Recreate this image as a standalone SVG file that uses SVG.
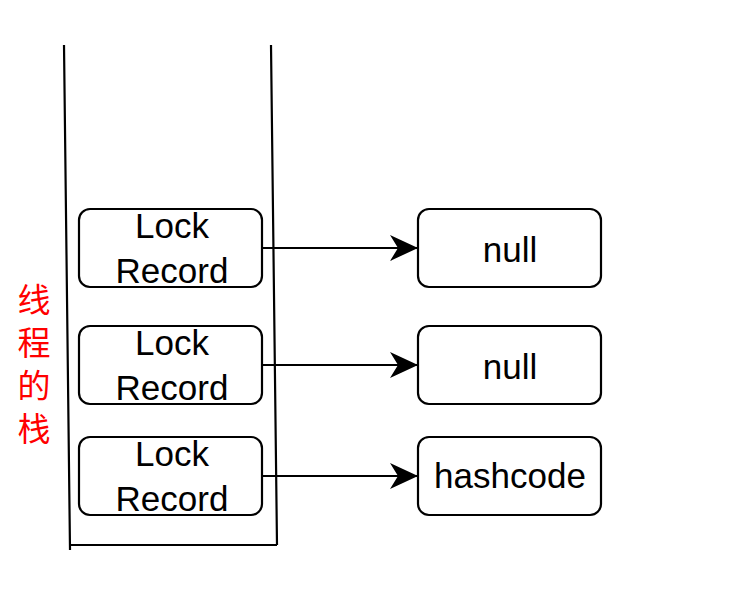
<svg xmlns="http://www.w3.org/2000/svg" width="750" height="590" viewBox="0 0 750 590">
<defs>
<style>
.box{fill:#fff;stroke:#000;stroke-width:2.2}
.t{font-family:"Liberation Sans",Arial,sans-serif;font-size:35px;fill:#000;text-anchor:middle}
.cjk{font-family:"Noto Sans CJK SC","Noto Sans",sans-serif;font-size:33px;fill:#ff0000;writing-mode:vertical-rl;letter-spacing:10px}
.ln{stroke:#000;stroke-width:2.2;fill:none}
</style>
<marker id="arr" viewBox="0 0 28 26" refX="27" refY="13" markerWidth="28" markerHeight="26" markerUnits="userSpaceOnUse" orient="auto">
<path d="M28,13 L0,0 L8,13 L0,26 Z" fill="#000"/>
</marker>
</defs>
<rect width="750" height="590" fill="#fff"/>
<g id="stack">
<path class="ln" d="M64,45 L70,550 M271,45 L277,545 M70,545 L277,545"/>
</g>
<g id="label">
<text class="cjk" x="34" y="283">线程的栈</text>
</g>
<g id="lr1">
<rect class="box" x="79" y="209" width="183" height="78" rx="11"/>
<text class="t" x="172" y="238">Lock</text>
<text class="t" x="172" y="283">Record</text>
</g>
<g id="lr2">
<rect class="box" x="79" y="326" width="183" height="78" rx="11"/>
<text class="t" x="172" y="355">Lock</text>
<text class="t" x="172" y="400">Record</text>
</g>
<g id="lr3">
<rect class="box" x="79" y="437" width="183" height="78" rx="11"/>
<text class="t" x="172" y="466">Lock</text>
<text class="t" x="172" y="511">Record</text>
</g>
<g id="v1">
<rect class="box" x="418" y="209" width="183" height="78" rx="11"/>
<text class="t" x="510" y="262">null</text>
</g>
<g id="v2">
<rect class="box" x="418" y="326" width="183" height="78" rx="11"/>
<text class="t" x="510" y="379">null</text>
</g>
<g id="v3">
<rect class="box" x="418" y="437" width="183" height="78" rx="11"/>
<text class="t" x="510" y="488">hashcode</text>
</g>
<g id="connectors">
<line class="ln" x1="262" y1="248" x2="417" y2="248" marker-end="url(#arr)"/>
<line class="ln" x1="262" y1="365" x2="417" y2="365" marker-end="url(#arr)"/>
<line class="ln" x1="262" y1="476" x2="417" y2="476" marker-end="url(#arr)"/>
</g>
</svg>
